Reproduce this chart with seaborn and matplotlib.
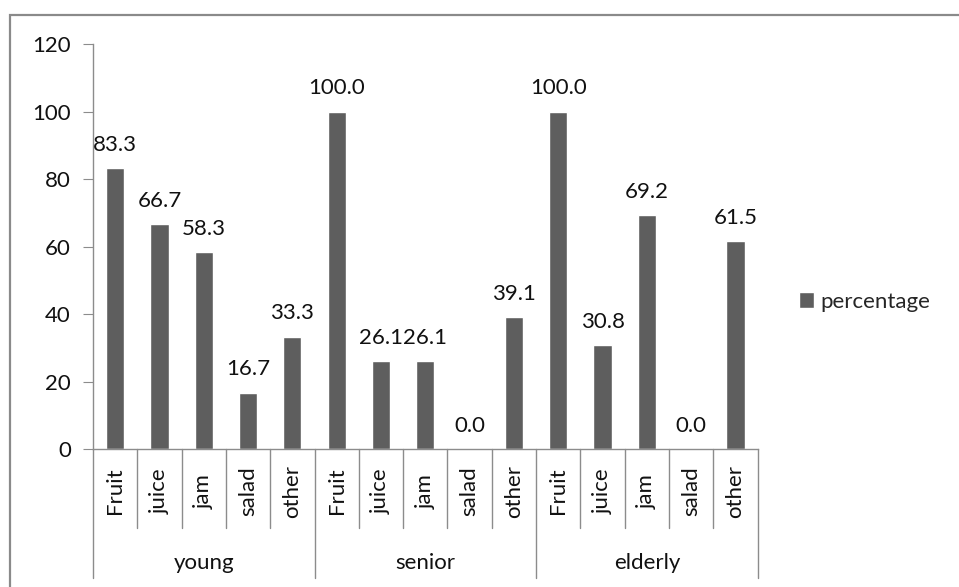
import matplotlib.pyplot as plt
import numpy as np
import pandas as pd
import seaborn as sns
from matplotlib.patches import Patch, Rectangle

# Data
groups = ['young', 'senior', 'elderly']
items = ['Fruit', 'juice', 'jam', 'salad', 'other']
young = [83.3, 66.7, 58.3, 16.7, 33.3]
senior = [100.0, 26.1, 26.1, 0.0, 39.1]
elderly = [100.0, 30.8, 69.2, 0.0, 61.5]

bar_color = '#5e5e5e'
axis_color = '#8c8c8c'
text_color = '#111111'
fs = 16

rows = []
for g, vals in zip(groups, [young, senior, elderly]):
    for it, v in zip(items, vals):
        rows.append({'key': g + '|' + it, 'group': g, 'item': it, 'percentage': v})
df = pd.DataFrame(rows)

sns.set_style('white')
plt.rcParams['font.family'] = ['Lato', 'DejaVu Sans']

fig = plt.figure(figsize=(9.59, 5.87), dpi=100)
ax = fig.add_axes([0.097, 0.235, 0.693, 0.690])

sns.barplot(data=df, x='key', y='percentage', color=bar_color, width=0.41,
            saturation=1, ax=ax, order=df['key'])

ax.set_ylim(0, 120)
ax.set_xlim(-0.5, len(df) - 0.5)
ax.set_yticks(np.arange(0, 121, 20))
ax.tick_params(axis='y', labelsize=fs, length=7, color=axis_color, left=True,
               pad=9, labelcolor=text_color)
ax.set_xticks([])
ax.set_xlabel('')
ax.set_ylabel('')
for s in ['top', 'right']:
    ax.spines[s].set_visible(False)
for s in ['left', 'bottom']:
    ax.spines[s].set_color(axis_color)
    ax.spines[s].set_linewidth(1)

# value labels
for i, v in enumerate(df['percentage']):
    ax.annotate(f'{v:.1f}', (i, v), xytext=(0, 9.5), textcoords='offset points',
                ha='center', va='bottom', fontsize=fs, color=text_color)

# two-level category axis
trans = ax.get_xaxis_transform()
n = len(df)
for b in range(n + 1):
    xb = b - 0.5
    low = -0.319 if b % len(items) == 0 else -0.195
    ax.plot([xb, xb], [0, low], transform=trans, color=axis_color, lw=1, clip_on=False)
for i, it in enumerate(df['item']):
    ax.text(i, -0.104, it, transform=trans, rotation=90, ha='center', va='center',
            fontsize=fs, color=text_color)
for j, g in enumerate(groups):
    xc = j * len(items) + (len(items) - 1) / 2
    ax.text(xc, -0.281, g, transform=trans, ha='center', va='center',
            fontsize=fs, color=text_color)

# legend
ax.legend(handles=[Patch(facecolor=bar_color, label='percentage')],
          loc='center left', bbox_to_anchor=(0.833, 0.4855), bbox_transform=fig.transFigure,
          frameon=False, fontsize=fs, handlelength=0.7, handleheight=0.7,
          handletextpad=0.25, borderpad=0, borderaxespad=0)

# chart border
fig.patches.append(Rectangle((10 / 959, -0.2), 1.5, 0.2 + 1 - 15 / 587,
                             transform=fig.transFigure, fill=False,
                             edgecolor='#8a8a8a', lw=1.6))

fig.savefig('out.png', dpi=100)
